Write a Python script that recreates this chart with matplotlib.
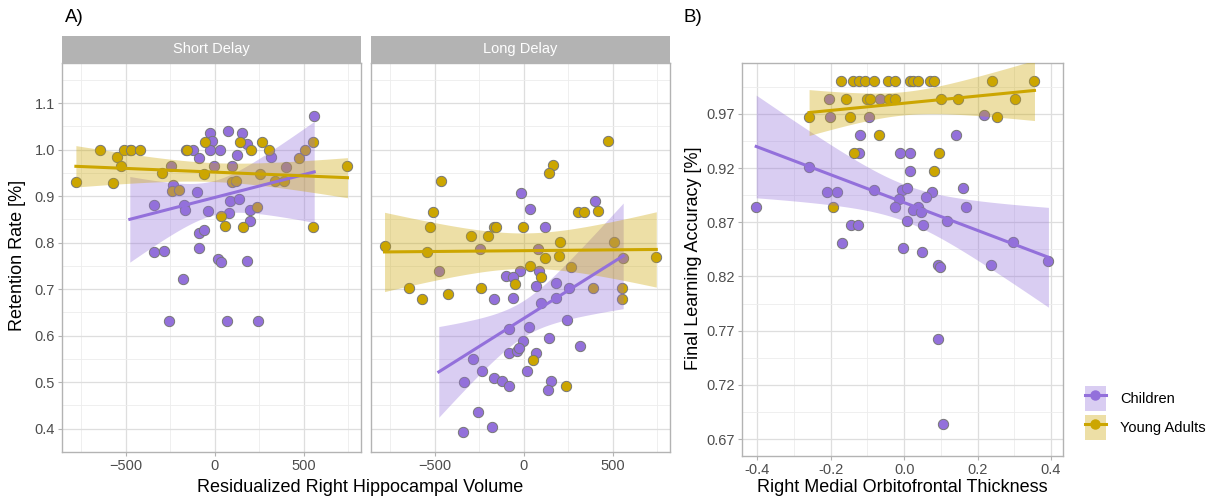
import numpy as np
import matplotlib
matplotlib.use("Agg")
import matplotlib.pyplot as plt
from matplotlib.patches import Patch
from matplotlib.lines import Line2D

plt.rcParams['font.family'] = ['Liberation Sans', 'DejaVu Sans']

######## data ###########
# Panel A, short delay
short_child_x = [-478, -341, -238, -172, -168, -163, -125, -88, -103, -88, -62, -88, -37, -28, -28, -15,
                 -28, 28, 71, 81, 84, 122, 135, 154, 178, 197, 200, 318, 558, -343, -287, -178, 19, 32,
                 178, -257, 69, 245, -247, -4, 97, 399]
short_child_y = [1.0, 0.881, 0.924, 0.882, 0.870, 1.0, 1.0, 0.982, 0.910, 0.821, 0.828, 0.789, 0.868, 1.016,
                 1.035, 1.019, 1.0, 1.0, 1.04, 0.865, 0.889, 0.989, 0.895, 1.035, 1.012, 0.870, 0.847, 0.984,
                 1.072, 0.781, 0.783, 0.723, 0.765, 0.759, 0.761, 0.632, 0.632, 0.632, 0.965, 0.966, 0.966, 0.963]
short_adult_x = [-781, -646, -571, -549, -528, -509, -472, -421, -296, -243, -200, -154, -60, -56, 34, 56,
                 97, 116, 140, 159, 202, 234, 253, 262, 305, 337, 388, 474, 506, 549, 553, 745]
short_adult_y = [0.931, 1.0, 0.928, 0.984, 0.966, 1.0, 1.0, 1.0, 0.949, 0.912, 0.914, 1.0, 0.947, 1.016,
                 0.857, 0.837, 0.931, 0.933, 1.016, 0.834, 1.0, 0.877, 0.947, 1.016, 1.0, 0.933, 0.933,
                 0.982, 1.0, 1.016, 0.834, 0.966]

# Panel A, long delay
long_child_x = [-478, -15, 34, 399, 120, -24, 84, -103, -60, 178, 69, -170, -60, 96, 180, 255, -82, 30, 243,
                -4, 142, 315, -82, -37, -26, 69, -285, -236, 19, -337, -167, -125, -84, 154, 135, -258,
                -178, -341, -247, 79, 558]
long_child_y = [0.740, 0.907, 0.873, 0.890, 0.834, 0.740, 0.740, 0.728, 0.726, 0.714, 0.707, 0.680, 0.681,
                0.670, 0.682, 0.703, 0.614, 0.618, 0.634, 0.588, 0.595, 0.579, 0.563, 0.568, 0.574, 0.563,
                0.549, 0.524, 0.525, 0.500, 0.509, 0.503, 0.493, 0.502, 0.484, 0.436, 0.404, 0.393,
                0.787, 0.787, 0.768]
long_adult_x = [472, 161, 142, -464, -509, 303, 339, 416, -528, -169, -155, -6, -296, -204, 202, 509, -783,
                -543, 744, 34, 116, 200, -51, 96, 262, -243, -644, 386, 553, 553, -573, -425, 52, 234]
long_adult_y = [1.018, 0.967, 0.949, 0.933, 0.867, 0.867, 0.867, 0.869, 0.834, 0.834, 0.834, 0.834, 0.814,
                0.814, 0.801, 0.801, 0.794, 0.781, 0.770, 0.751, 0.768, 0.771, 0.712, 0.726, 0.747, 0.702,
                0.702, 0.702, 0.702, 0.680, 0.680, 0.690, 0.547, 0.493]

# Panel B
b_child_x = [-0.206, -0.203, -0.097, -0.065, 0.218, -0.120, 0.141, -0.124, -0.010, 0.015, 0.015, -0.259,
             -0.209, -0.182, -0.082, -0.006, 0.009, 0.077, 0.060, 0.161, -0.403, -0.015, -0.024, 0.037,
             0.025, 0.045, 0.169, 0.009, 0.051, 0.116, -0.145, -0.127, -0.170, -0.002, 0.048, 0.296,
             0.393, 0.091, 0.097, 0.237, 0.091, 0.105]
b_child_y = [0.9835, 0.967, 0.967, 0.9835, 0.969, 0.950, 0.950, 0.934, 0.934, 0.934, 0.917, 0.921,
             0.898, 0.898, 0.900, 0.900, 0.902, 0.898, 0.893, 0.902, 0.884, 0.891, 0.884, 0.884,
             0.881, 0.879, 0.884, 0.871, 0.867, 0.871, 0.867, 0.867, 0.851, 0.846, 0.843, 0.852,
             0.834, 0.831, 0.829, 0.831, 0.762, 0.684]
b_adult_x = [-0.172, -0.138, -0.122, -0.106, -0.081, -0.045, -0.024, 0.015, 0.025, 0.038, 0.071, 0.080,
             0.240, 0.355, -0.159, -0.102, -0.093, -0.041, -0.026, 0.100, 0.148, 0.302, -0.259, -0.147,
             0.252, -0.068, -0.136, 0.096, 0.082, -0.195]
b_adult_y = [1.0] * 14 + [0.9835] * 8 + [0.967] * 3 + [0.950, 0.934, 0.934, 0.917, 0.884]

groups = ["Children", "Young Adults"]
colors = ["#9370DB", "#CCA600"]

W, H = 1217, 499
fig = plt.figure(figsize=(W / 100, H / 100), dpi=100)


def box(l, t, r, b):
    return [l / W, 1 - b / H, (r - l) / W, (b - t) / H]


def smooth(ax, x, y, col):
    # linear fit with 95% confidence band, like geom_smooth(method="lm")
    x = np.asarray(x, float); y = np.asarray(y, float)
    n = len(x)
    b1, b0 = np.polyfit(x, y, 1)
    res = y - (b0 + b1 * x)
    s = np.sqrt(np.sum(res ** 2) / (n - 2))
    sxx = np.sum((x - x.mean()) ** 2)
    xs = np.linspace(x.min(), x.max(), 80)
    yh = b0 + b1 * xs
    se = s * np.sqrt(1 / n + (xs - x.mean()) ** 2 / sxx)
    ax.fill_between(xs, yh - 2.02 * se, yh + 2.02 * se, color=col, alpha=0.35, lw=0, zorder=3)
    ax.plot(xs, yh, color=col, lw=2.2, zorder=4)


def style(ax, xt, xminor, yt, yminor):
    ax.set_xticks(xt); ax.set_xticks(xminor, minor=True)
    ax.set_yticks(yt); ax.set_yticks(yminor, minor=True)
    ax.grid(True, which='major', color='#DEDEDE', lw=0.9, zorder=0)
    ax.grid(True, which='minor', color='#EDEDED', lw=0.6, zorder=0)
    ax.set_axisbelow(True)
    for sp in ax.spines.values():
        sp.set_color('#B3B3B3'); sp.set_linewidth(1.0)
    ax.tick_params(which='major', length=3, color='#B3B3B3', labelsize=10.5, labelcolor='#4D4D4D', pad=2)
    ax.tick_params(which='minor', length=0)


def panel(ax, data):
    for (x, y), col in zip(data, colors):
        ax.scatter(x, y, s=55, color=col, edgecolor='#777777', linewidth=0.7, zorder=2)
    for (x, y), col in zip(data, colors):
        smooth(ax, x, y, col)


ax1 = fig.add_axes(box(62, 63, 361, 452))
ax2 = fig.add_axes(box(371, 63, 670, 452))
ax3 = fig.add_axes(box(742, 63, 1063, 456))

panel(ax1, [(short_child_x, short_child_y), (short_adult_x, short_adult_y)])
panel(ax2, [(long_child_x, long_child_y), (long_adult_x, long_adult_y)])
panel(ax3, [(b_child_x, b_child_y), (b_adult_x, b_adult_y)])

yt_a = [0.4, 0.5, 0.6, 0.7, 0.8, 0.9, 1.0, 1.1]
for ax in (ax1, ax2):
    ax.set_xlim(-859, 821)
    ax.set_ylim(0.366, 1.1865)
    style(ax, [-500, 0, 500], [-750, -250, 250, 750], yt_a, np.arange(0.35, 1.2, 0.1))
    ax.set_yticklabels(["%.1f" % v for v in yt_a])
ax2.tick_params(labelleft=False, length=0, axis='y')

yt_b = [0.67, 0.72, 0.77, 0.82, 0.87, 0.92, 0.97]
ax3.set_xlim(-0.4417, 0.4327)
ax3.set_ylim(0.6545, 1.0168)
style(ax3, [-0.4, -0.2, 0.0, 0.2, 0.4], [-0.3, -0.1, 0.1, 0.3], yt_b, np.arange(0.695, 1.0, 0.05))
ax3.set_xticklabels(["-0.4", "-0.2", "0.0", "0.2", "0.4"])
ax3.set_yticklabels(["%.2f" % v for v in yt_b])

# facet strips
for l, r, lab in [(62, 361, "Short Delay"), (371, 670, "Long Delay")]:
    st = fig.add_axes(box(l, 36, r, 63))
    st.set_facecolor('#B3B3B3')
    st.set_xticks([]); st.set_yticks([])
    for sp in st.spines.values():
        sp.set_visible(False)
    st.text(0.5, 0.5, lab, color='white', fontsize=10.5, ha='center', va='center', transform=st.transAxes)

fig.text(360 / W, 1 - 487 / H, "Residualized Right Hippocampal Volume", ha='center', va='center', fontsize=13)
fig.text(18 / W, 1 - 255 / H, "Retention Rate [%]", ha='center', va='center', rotation=90, fontsize=13)
fig.text(902 / W, 1 - 487 / H, "Right Medial Orbitofrontal Thickness", ha='center', va='center', fontsize=13)
fig.text(693 / W, 1 - 258 / H, "Final Learning Accuracy [%]", ha='center', va='center', rotation=90, fontsize=13)
fig.text(65 / W, 1 - 18 / H, "A)", ha='left', va='center', fontsize=13.5)
fig.text(683 / W, 1 - 18 / H, "B)", ha='left', va='center', fontsize=13.5)

handles = [(Patch(facecolor=c, alpha=0.35, lw=0),
            Line2D([], [], color=c, lw=2.2, marker='o', markersize=6.5, markeredgecolor=c))
           for c in colors]
fig.legend(handles, groups, loc='center left', bbox_to_anchor=(1072 / W, 1 - 413 / H), frameon=False,
           fontsize=10.5, handlelength=1.4, handleheight=2.2, handletextpad=1.0, labelspacing=0.3)

fig.savefig("out.png", dpi=100)
